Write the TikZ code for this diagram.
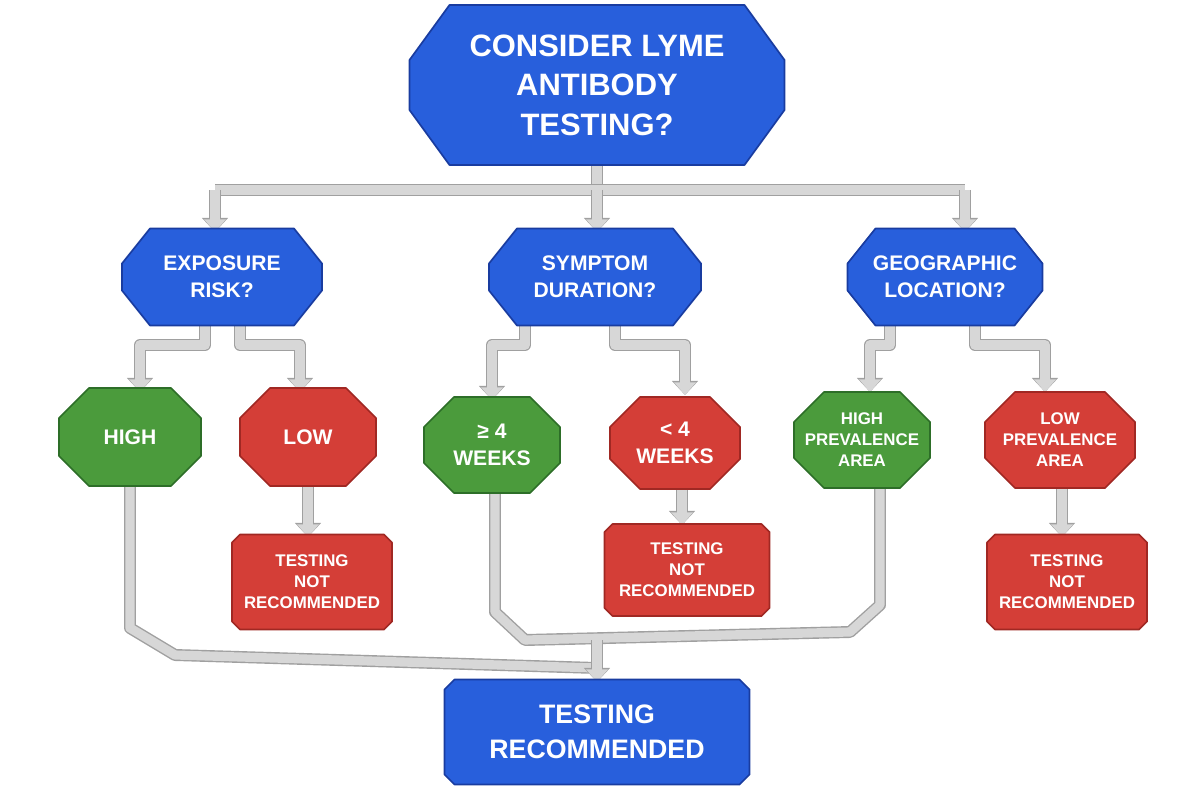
\documentclass[tikz,border=0pt]{standalone}
\usepackage{fontspec}
\setmainfont{Liberation Sans}
\usetikzlibrary{arrows.meta}
\definecolor{bl}{RGB}{40,95,220}
\definecolor{blD}{RGB}{25,60,160}
\definecolor{gr}{RGB}{75,155,60}
\definecolor{grD}{RGB}{45,110,40}
\definecolor{rd}{RGB}{212,62,55}
\definecolor{rdD}{RGB}{160,40,35}
\definecolor{cfill}{RGB}{215,215,215}
\definecolor{cedge}{RGB}{160,160,160}
\tikzset{
 lbl/.style={text=white, font=\bfseries, align=center, inner sep=0pt},
 blue/.style={fill=bl, draw=blD, line width=1.2pt, line join=round},
 green/.style={fill=gr, draw=grD, line width=1.2pt, line join=round},
 red/.style={fill=rd, draw=rdD, line width=1.2pt, line join=round},
 conn/.style={line width=6.5pt, draw=cfill, line join=round, -{Triangle[length=9pt,width=15pt]},
   preaction={draw=cedge, line width=8.5pt, line join=round, -{Triangle[length=10pt,width=18pt]}}},
 seg/.style={line width=6.5pt, draw=cfill, line join=round,
   preaction={draw=cedge, line width=8.5pt, line join=round}},
}
% \shp{name}{cx}{cy}{w}{h}{chamfer x}{chamfer y}{style}{font}{text}
\newcommand\shp[9]{%
 \path[#8] ({#2-#4/2+#6},{#3-#5/2}) -- ({#2+#4/2-#6},{#3-#5/2}) -- ({#2+#4/2},{#3-#5/2+#7})
   -- ({#2+#4/2},{#3+#5/2-#7}) -- ({#2+#4/2-#6},{#3+#5/2}) -- ({#2-#4/2+#6},{#3+#5/2})
   -- ({#2-#4/2},{#3+#5/2-#7}) -- ({#2-#4/2},{#3-#5/2+#7}) -- cycle;
 \node[lbl, minimum width=#4*0.025cm, minimum height=#5*0.025cm, font=\bfseries#9] (#1) at (#2,#3) {\shptext};}
\begin{document}
\begin{tikzpicture}[x=0.025cm,y=-0.025cm]
\useasboundingbox (0,0) rectangle (1200,800);
% connectors first
\coordinate (b0) at (597,190);
\coordinate (bl) at (215,190);
\coordinate (br) at (965,190);
\draw[seg] (597,150) -- (b0);
\draw[seg] (bl) -- (br);
\draw[conn] (bl) -- (215,232);
\draw[conn] (b0) -- (597,232);
\draw[conn] (br) -- (965,232);
\draw[conn] (205,320) -- (205,345) -- (140,345) -- (140,392);
\draw[conn] (240,320) -- (240,345) -- (300,345) -- (300,392);
\draw[conn] (525,320) -- (525,345) -- (492,345) -- (492,400);
\draw[conn] (615,320) -- (615,345) -- (685,345) -- (685,395);
\draw[conn] (890,320) -- (890,345) -- (870,345) -- (870,392);
\draw[conn] (975,320) -- (975,345) -- (1045,345) -- (1045,392);
\draw[conn] (308,480) -- (308,537);
\draw[conn] (682,485) -- (682,525);
\draw[conn] (1062,485) -- (1062,537);
\draw[seg] (130,480) -- (130,628) -- (175,655) -- (597,668);
\draw[seg] (495,490) -- (495,612) -- (525,640) -- (850,632) -- (880,605) -- (880,485);
\coordinate (j) at (597,640);
\draw[conn] (j) -- (597,682);

% nodes
\def\shptext{CONSIDER LYME\\ANTIBODY\\TESTING?}
\shp{top}{597}{85}{375}{160}{40}{55}{blue}{\fontsize{22}{28}\selectfont}
\def\shptext{EXPOSURE\\RISK?}
\shp{exp}{222}{277}{200}{97}{28}{35}{blue}{\fontsize{15}{19}\selectfont}
\def\shptext{SYMPTOM\\DURATION?}
\shp{sym}{595}{277}{212}{97}{28}{35}{blue}{\fontsize{15}{19}\selectfont}
\def\shptext{GEOGRAPHIC\\LOCATION?}
\shp{geo}{945}{277}{195}{97}{28}{35}{blue}{\fontsize{15}{19}\selectfont}
\def\shptext{HIGH}
\shp{high}{130}{437}{142}{98}{30}{30}{green}{\fontsize{15}{19}\selectfont}
\def\shptext{LOW}
\shp{low}{308}{437}{136}{98}{30}{30}{red}{\fontsize{15}{19}\selectfont}
\def\shptext{≥ 4\\WEEKS}
\shp{ge4}{492}{445}{136}{96}{30}{30}{green}{\fontsize{15}{19}\selectfont}
\def\shptext{< 4\\WEEKS}
\shp{lt4}{675}{443}{130}{92}{30}{30}{red}{\fontsize{15}{19}\selectfont}
\def\shptext{HIGH\\PREVALENCE\\AREA}
\shp{hpa}{862}{440}{136}{96}{30}{30}{green}{\fontsize{12}{15}\selectfont}
\def\shptext{LOW\\PREVALENCE\\AREA}
\shp{lpa}{1060}{440}{150}{96}{30}{30}{red}{\fontsize{12}{15}\selectfont}
\def\shptext{TESTING\\NOT\\RECOMMENDED}
\shp{nr1}{312}{582}{160}{95}{8}{8}{red}{\fontsize{12}{15}\selectfont}
\shp{nr2}{687}{570}{165}{92}{8}{8}{red}{\fontsize{12}{15}\selectfont}
\shp{nr3}{1067}{582}{160}{95}{8}{8}{red}{\fontsize{12}{15}\selectfont}
\def\shptext{TESTING\\RECOMMENDED}
\shp{rec}{597}{732}{305}{105}{10}{10}{blue}{\fontsize{19}{25}\selectfont}
\end{tikzpicture}
\end{document}
